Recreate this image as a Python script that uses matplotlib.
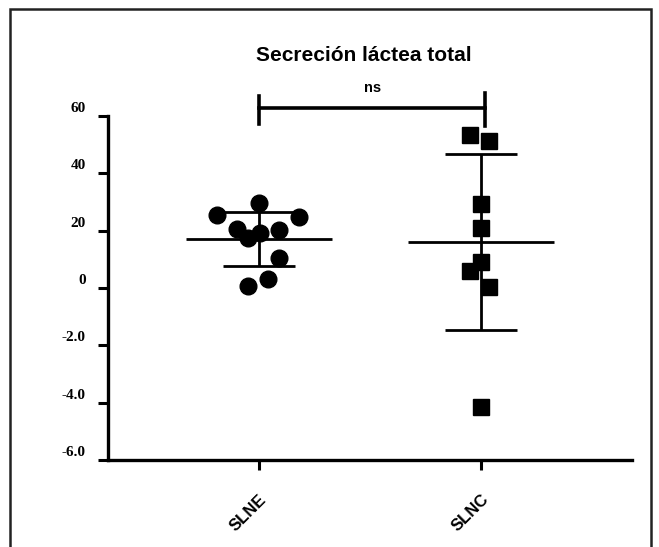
import numpy as np
import matplotlib
matplotlib.use("Agg")
import matplotlib.pyplot as plt
from matplotlib.patches import Rectangle
from matplotlib.transforms import ScaledTranslation

# datos
grupos = ["SLNE", "SLNC"]
slne = [25.5, 29.5, 24.9, 20.5, 17.3, 19.1, 20.2, 10.4, 3.1, 0.7]
slne_jit = [-0.19, 0.0, 0.18, -0.098, -0.048, 0.005, 0.09, 0.09, 0.042, -0.048]
slnc = [53.4, 51.4, 29.2, 20.8, 9.2, 5.9, 0.5, -41.6]
slnc_jit = [-0.05, 0.037, 0.0, 0.0, 0.0, -0.05, 0.037, 0.0]
yticks = [60, 40, 20, 0, -20, -40, -60]
ytick_labels = ["60", "40", "20", "0", "-2.0", "-4.0", "-6.0"]

fig = plt.figure(figsize=(6.59, 5.47), dpi=100)
ax = fig.add_axes([108/659, 1-460/547, (632-108)/659, (460-116)/547])

# marco exterior
fig.patches.append(Rectangle((10/659, -0.05), (651-10)/659, 1.05-9/547,
                             transform=fig.transFigure, fill=False,
                             edgecolor='#222222', linewidth=1.8))

datos = [slne, slnc]
jits = [slne_jit, slnc_jit]
marcas = ['o', 's']
for i in range(2):
    vals = np.array(datos[i])
    m = vals.mean()
    sd = vals.std(ddof=1)
    ax.hlines(m, i-0.33, i+0.33, color='black', lw=2.0, zorder=2)
    ax.vlines(i, m-sd, m+sd, color='black', lw=2.0, zorder=2)
    ax.hlines([m-sd, m+sd], i-0.163, i+0.163, color='black', lw=2.0, zorder=2)
    ax.plot(i+np.array(jits[i]), vals, linestyle='None', marker=marcas[i],
            color='black', markersize=12 if i == 0 else 11.5, zorder=3)

ax.set_xlim(-0.68, 1.68)
ax.set_ylim(-60, 60)
ax.set_yticks(yticks)
ax.set_yticklabels(ytick_labels, fontfamily='Liberation Serif',
                   fontweight='bold', fontsize=11)
ax.set_xticks([0, 1])
ax.set_xticklabels(grupos, rotation=45, ha='right', rotation_mode='anchor',
                   fontfamily='Liberation Sans', fontweight='bold', fontsize=12)
ax.tick_params(axis='both', width=2.2, length=7, color='black')
ax.tick_params(axis='y', pad=9)
ax.tick_params(axis='x', pad=16)
# etiquetas del eje y un poco por encima de la marca
desp = ScaledTranslation(0, 9/100, fig.dpi_scale_trans)
for lab in ax.get_yticklabels():
    lab.set_transform(lab.get_transform() + desp)
for s in ['top', 'right']:
    ax.spines[s].set_visible(False)
for s in ['left', 'bottom']:
    ax.spines[s].set_linewidth(2.4)

# corchete de significancia
ax.plot([0, 1.02], [62.8, 62.8], color='black', lw=2.6, clip_on=False)
ax.plot([0, 0], [57.2, 67.0], color='black', lw=2.6, clip_on=False)
ax.plot([1.02, 1.02], [56.5, 68.0], color='black', lw=2.6, clip_on=False)
ax.text(0.51, 69.8, "ns", ha='center', va='center', fontfamily='Liberation Sans',
        fontweight='bold', fontsize=10.5, clip_on=False)

fig.text(364/659, 1-55/547, "Secreción láctea total", ha='center', va='center',
         fontfamily='Liberation Sans', fontweight='bold', fontsize=15)

fig.savefig("out.png", dpi=100)
